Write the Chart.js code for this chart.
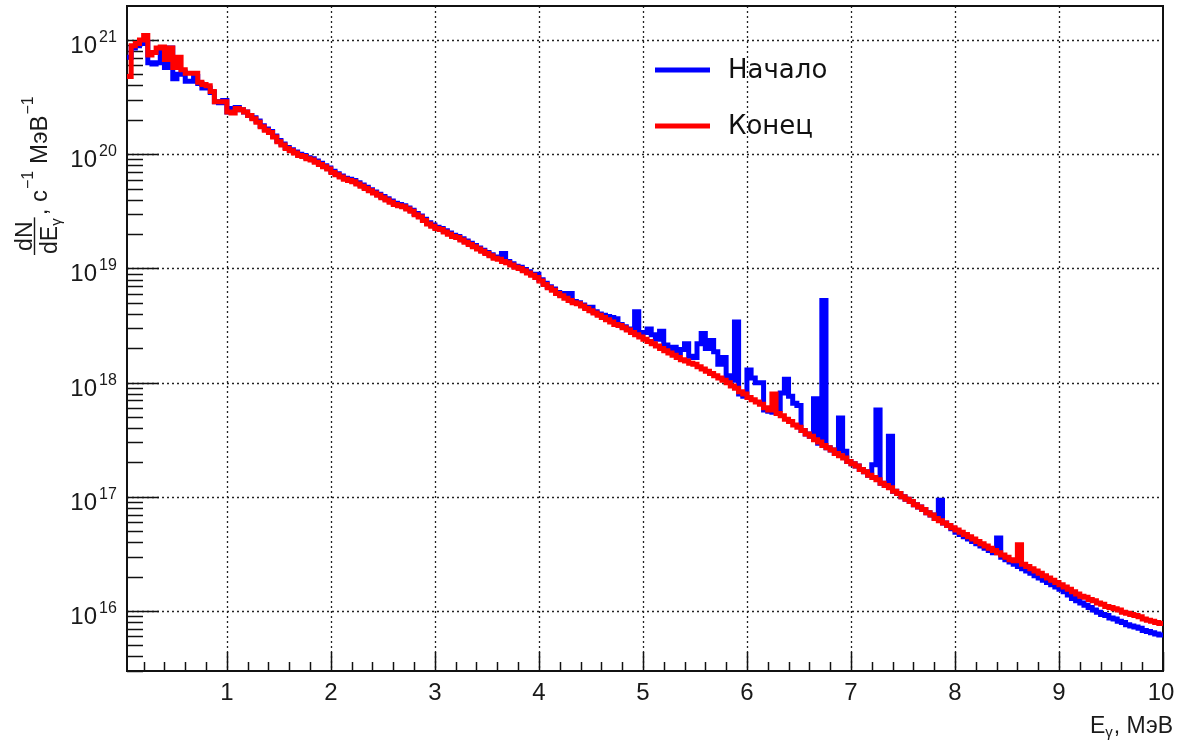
<!DOCTYPE html>
<html>
<head>
    <title>Спектр гамма-квантов</title>
    <script src="https://cdn.jsdelivr.net/npm/chart.js@4.4.1/dist/chart.umd.min.js"></script>
    <style>
        body { margin: 0; background: #fff; }
        #myChart { display: block; }
    </style>
</head>
<body>
    <canvas id="myChart" width="1181" height="742"></canvas>
    <script>
        // histogram binning, MeV
        var binStart = 0.04;
        var binWidth = 0.04;
        var xMax = 10;

        // log10 of dN/dE (c^-1 MeV^-1) per bin
        var startExp = [ // Начало
            20.85, 20.93, 20.95, 20.97, 20.98, 20.80, 20.79, 20.80, 20.93, 20.76,
            20.93, 20.66, 20.70, 20.72, 20.64, 20.64, 20.68, 20.62, 20.58, 20.58,
            20.54, 20.46, 20.45, 20.47, 20.37, 20.40, 20.41, 20.39, 20.37, 20.34,
            20.32, 20.29, 20.25, 20.22, 20.20, 20.16, 20.12, 20.09, 20.06, 20.04,
            20.02, 20.00, 19.99, 19.97, 19.96, 19.94, 19.92, 19.90, 19.88, 19.85,
            19.83, 19.81, 19.79, 19.78, 19.77, 19.75, 19.73, 19.71, 19.69, 19.67,
            19.65, 19.63, 19.61, 19.59, 19.57, 19.56, 19.55, 19.53, 19.51, 19.48,
            19.46, 19.43, 19.40, 19.38, 19.36, 19.35, 19.33, 19.31, 19.29, 19.28,
            19.26, 19.24, 19.22, 19.20, 19.18, 19.16, 19.14, 19.12, 19.10, 19.09,
            19.13, 19.06, 19.04, 19.02, 19.01, 18.99, 18.97, 18.95, 18.95, 18.90,
            18.87, 18.84, 18.82, 18.79, 18.77, 18.78, 18.78, 18.71, 18.70, 18.68,
            18.66, 18.66, 18.62, 18.60, 18.59, 18.58, 18.57, 18.56, 18.51, 18.49,
            18.47, 18.46, 18.62, 18.42, 18.44, 18.47, 18.42, 18.38, 18.45, 18.33,
            18.30, 18.31, 18.26, 18.29, 18.34, 18.23, 18.22, 18.34, 18.43, 18.30,
            18.37, 18.27, 18.16, 18.22, 18.06, 18.02, 18.53, 17.90, 17.88, 18.11,
            18.04, 18.00, 18.00, 17.76, 17.75, 17.74, 17.76, 17.91, 18.03, 17.88,
            17.82, 17.80, 17.58, 17.55, 17.53, 17.86, 17.47, 18.72, 17.43, 17.41,
            17.38, 17.69, 17.40, 17.31, 17.29, 17.27, 17.24, 17.22, 17.19, 17.28,
            17.76, 17.12, 17.10, 17.53, 17.05, 17.03, 17.00, 16.98, 16.96, 16.93,
            16.91, 16.89, 16.86, 16.84, 16.81, 16.97, 16.77, 16.75, 16.72, 16.69,
            16.67, 16.65, 16.63, 16.61, 16.59, 16.57, 16.55, 16.53, 16.51, 16.64,
            16.47, 16.45, 16.43, 16.41, 16.39, 16.37, 16.35, 16.33, 16.31, 16.29,
            16.27, 16.25, 16.23, 16.21, 16.19, 16.17, 16.14, 16.11, 16.09, 16.07,
            16.05, 16.03, 16.01, 15.99, 15.97, 15.96, 15.94, 15.93, 15.91, 15.90,
            15.88, 15.87, 15.86, 15.85, 15.83, 15.82, 15.81, 15.80, 15.79
        ];
        var endExp = [ // Конец
            20.68, 20.95, 20.97, 21.00, 21.04, 20.87, 20.89, 20.93, 20.94, 20.83,
            20.93, 20.76, 20.85, 20.74, 20.71, 20.71, 20.71, 20.63, 20.61, 20.60,
            20.55, 20.46, 20.46, 20.46, 20.37, 20.36, 20.40, 20.39, 20.37, 20.34,
            20.31, 20.28, 20.24, 20.21, 20.19, 20.15, 20.11, 20.08, 20.05, 20.03,
            20.01, 19.99, 19.98, 19.96, 19.95, 19.93, 19.91, 19.89, 19.87, 19.84,
            19.82, 19.80, 19.78, 19.77, 19.76, 19.74, 19.72, 19.70, 19.68, 19.66,
            19.64, 19.62, 19.60, 19.58, 19.56, 19.55, 19.54, 19.52, 19.50, 19.47,
            19.45, 19.42, 19.39, 19.37, 19.35, 19.34, 19.32, 19.30, 19.28, 19.27,
            19.25, 19.23, 19.21, 19.19, 19.17, 19.15, 19.13, 19.11, 19.09, 19.08,
            19.06, 19.05, 19.03, 19.01, 19.00, 18.98, 18.96, 18.94, 18.92, 18.89,
            18.86, 18.83, 18.81, 18.78, 18.76, 18.74, 18.72, 18.70, 18.69, 18.67,
            18.65, 18.63, 18.61, 18.59, 18.57, 18.55, 18.53, 18.51, 18.50, 18.48,
            18.46, 18.44, 18.42, 18.40, 18.38, 18.36, 18.34, 18.32, 18.30, 18.28,
            18.26, 18.24, 18.22, 18.20, 18.19, 18.17, 18.16, 18.14, 18.12, 18.10,
            18.08, 18.06, 18.04, 18.02, 18.00, 17.97, 17.95, 17.92, 17.90, 17.87,
            17.85, 17.83, 17.81, 17.78, 17.76, 17.90, 17.73, 17.71, 17.68, 17.66,
            17.63, 17.61, 17.58, 17.55, 17.53, 17.50, 17.48, 17.45, 17.43, 17.41,
            17.38, 17.36, 17.34, 17.31, 17.29, 17.27, 17.24, 17.22, 17.19, 17.17,
            17.15, 17.12, 17.10, 17.08, 17.05, 17.03, 17.00, 16.98, 16.96, 16.93,
            16.91, 16.89, 16.86, 16.84, 16.81, 16.79, 16.77, 16.75, 16.73, 16.71,
            16.69, 16.67, 16.65, 16.63, 16.61, 16.59, 16.57, 16.55, 16.53, 16.51,
            16.49, 16.47, 16.45, 16.44, 16.58, 16.41, 16.39, 16.37, 16.35, 16.33,
            16.31, 16.29, 16.27, 16.25, 16.23, 16.21, 16.19, 16.17, 16.15, 16.13,
            16.12, 16.10, 16.09, 16.07, 16.06, 16.04, 16.03, 16.02, 16.01, 15.99,
            15.98, 15.97, 15.96, 15.95, 15.93, 15.92, 15.91, 15.90, 15.89
        ];

        var xTickLabels = [1, 2, 3, 4, 5, 6, 7, 8, 9, 10];
        var yDecades = [16, 17, 18, 19, 20, 21];
        var yMinExp = 15.475;
        var yMaxExp = 21.298;
        var seriesNames = ['Начало', 'Конец'];
        var seriesColors = ['#0000ff', '#ff0000'];

        // histogram -> step points at bin low edges (+ closing point at upper edge)
        function toSteps(exps) {
            var pts = [];
            for (var i = 0; i < exps.length; i++) {
                pts.push({ x: binStart + i * binWidth, y: Math.pow(10, exps[i]) });
            }
            pts.push({ x: xMax, y: Math.pow(10, exps[exps.length - 1]) });
            return pts;
        }

        var font = '"Liberation Sans", Arial, sans-serif';
        var legendFont = '"DejaVu Sans", sans-serif';
        var ink = '#1a1a1a';

        function line(ctx, x1, y1, x2, y2) {
            ctx.beginPath();
            ctx.moveTo(x1, y1);
            ctx.lineTo(x2, y2);
            ctx.stroke();
        }

        var rootFrame = {
            id: 'rootFrame',
            beforeDatasetsDraw: function (chart) {
                var ctx = chart.ctx, a = chart.chartArea;
                var xs = chart.scales.x, ys = chart.scales.y;
                ctx.save();

                // dotted grid
                ctx.strokeStyle = '#222';
                ctx.lineWidth = 1.3;
                ctx.setLineDash([2, 3]);
                xTickLabels.forEach(function (v) {
                    if (v >= xMax) return;
                    var px = Math.round(xs.getPixelForValue(v)) + 0.5;
                    line(ctx, px, a.top, px, a.bottom);
                });
                yDecades.forEach(function (d) {
                    var py = Math.round(ys.getPixelForValue(Math.pow(10, d))) + 0.5;
                    line(ctx, a.left, py, a.right, py);
                });
                ctx.setLineDash([]);

                // ticks
                ctx.strokeStyle = '#111';
                ctx.lineWidth = 1.5;
                for (var d = 15; d <= 21; d++) {
                    for (var m = 1; m <= 9; m++) {
                        var v = m * Math.pow(10, d);
                        if (v < ys.min || v > ys.max) continue;
                        var py = Math.round(ys.getPixelForValue(v)) + 0.5;
                        line(ctx, a.left, py, a.left + (m === 1 ? 32 : 16), py);
                    }
                }
                for (var k = 1; k <= 50; k++) {
                    var e = k * 0.2;
                    if (e < xs.min || e > xs.max) continue;
                    var px = Math.round(xs.getPixelForValue(e)) + 0.5;
                    var major = (k % 5 === 0);
                    line(ctx, px, a.bottom, px, a.bottom - (major ? 19 : 9));
                }

                // frame
                ctx.lineWidth = 2;
                ctx.strokeRect(a.left, a.top, a.right - a.left, a.bottom - a.top);
                ctx.restore();
            },
            afterDraw: function (chart) {
                var ctx = chart.ctx, a = chart.chartArea;
                var xs = chart.scales.x, ys = chart.scales.y;
                ctx.save();
                ctx.fillStyle = ink;

                // y tick labels 10^n
                yDecades.forEach(function (d) {
                    var py = ys.getPixelForValue(Math.pow(10, d));
                    ctx.font = '24px ' + font;
                    ctx.textAlign = 'right';
                    ctx.textBaseline = 'alphabetic';
                    ctx.fillText('10', 97, py + 13);
                    ctx.font = '16px ' + font;
                    ctx.textAlign = 'left';
                    ctx.fillText(String(d), 99, py + 2);
                });

                // x tick labels
                ctx.font = '24px ' + font;
                ctx.textAlign = 'center';
                xTickLabels.forEach(function (v) {
                    var px = xs.getPixelForValue(v);
                    ctx.fillText(String(v), v === 10 ? px - 2 : px, 700);
                });

                // x title: E_γ, МэВ
                ctx.textAlign = 'left';
                var xt = 1090;
                ctx.font = '23px ' + font;
                ctx.fillText('E', xt, 733);
                xt += ctx.measureText('E').width;
                ctx.font = '15px ' + font;
                ctx.fillText('\u03b3', xt, 737);
                xt += ctx.measureText('\u03b3').width + 1;
                ctx.font = '23px ' + font;
                ctx.fillText(', МэВ', xt, 733);

                // y title: dN/dE_γ, c^-1 МэВ^-1 (rotated)
                ctx.save();
                ctx.translate(47, 255);
                ctx.rotate(-Math.PI / 2);
                ctx.font = '23px ' + font;
                var numW = ctx.measureText('dN').width;
                var dEW = ctx.measureText('dE').width;
                ctx.font = '15px ' + font;
                var gW = ctx.measureText('\u03b3').width;
                var denW = dEW + gW;
                var fw = Math.max(numW, denW) + 2;
                ctx.font = '23px ' + font;
                ctx.fillText('dN', (fw - numW) / 2, -15);
                ctx.fillText('dE', (fw - denW) / 2, 10);
                ctx.font = '15px ' + font;
                ctx.fillText('\u03b3', (fw - denW) / 2 + dEW, 14);
                ctx.fillRect(0, -13.2, fw, 1.4);
                var u = fw + 2;
                ctx.font = '24px ' + font;
                ctx.fillText(', c', u, 0);
                u += ctx.measureText(', c').width + 1;
                ctx.font = '16px ' + font;
                ctx.fillText('\u22121', u, -14);
                u += ctx.measureText('\u22121').width;
                ctx.font = '24px ' + font;
                ctx.fillText(' МэВ', u, 0);
                u += ctx.measureText(' МэВ').width + 1;
                ctx.font = '16px ' + font;
                ctx.fillText('\u22121', u, -14);
                ctx.restore();

                // legend
                ctx.font = '26px ' + legendFont;
                ctx.textAlign = 'left';
                ctx.textBaseline = 'middle';
                [70, 126].forEach(function (ly, i) {
                    ctx.strokeStyle = seriesColors[i];
                    ctx.lineWidth = 5;
                    line(ctx, 655, ly, 710, ly);
                    ctx.fillStyle = '#111';
                    ctx.fillText(seriesNames[i], 728, ly + 1);
                });
                ctx.restore();
            }
        };

        var ctx = document.getElementById('myChart').getContext('2d');
        var myChart = new Chart(ctx, {
            type: 'line',
            data: {
                datasets: [{
                    label: seriesNames[0],
                    data: toSteps(startExp),
                    borderColor: seriesColors[0],
                    borderWidth: 5,
                    stepped: 'before',
                    pointRadius: 0,
                    fill: false,
                    order: 1
                }, {
                    label: seriesNames[1],
                    data: toSteps(endExp),
                    borderColor: seriesColors[1],
                    borderWidth: 5,
                    stepped: 'before',
                    pointRadius: 0,
                    fill: false,
                    order: 0
                }]
            },
            options: {
                responsive: false,
                animation: false,
                devicePixelRatio: 1,
                layout: { padding: { left: 0, right: 18, top: 6, bottom: 0 } },
                plugins: { legend: { display: false }, tooltip: { enabled: false } },
                scales: {
                    x: {
                        type: 'linear',
                        min: binStart,
                        max: xMax,
                        ticks: { display: false },
                        grid: { display: false },
                        border: { display: false },
                        afterFit: function (s) { s.height = 71; }
                    },
                    y: {
                        type: 'logarithmic',
                        min: Math.pow(10, yMinExp),
                        max: Math.pow(10, yMaxExp),
                        ticks: { display: false },
                        grid: { display: false },
                        border: { display: false },
                        afterFit: function (s) { s.width = 127; }
                    }
                }
            },
            plugins: [rootFrame]
        });
    </script>
</body>
</html>
